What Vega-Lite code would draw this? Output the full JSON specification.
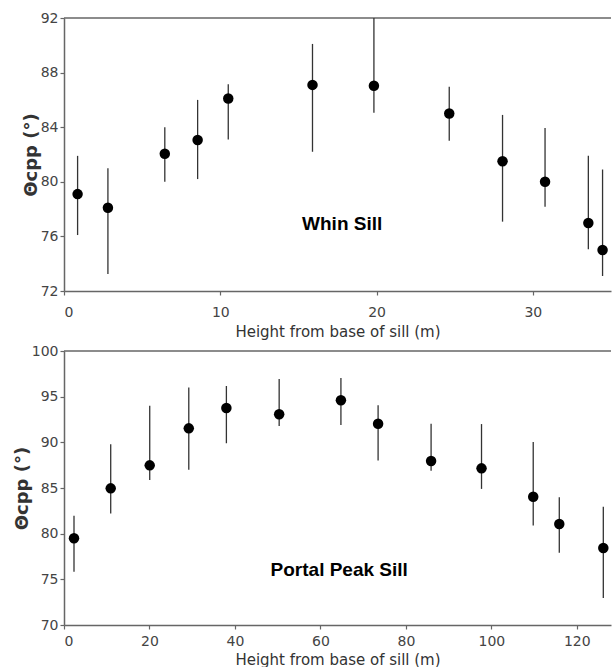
{
  "$schema": "https://vega.github.io/schema/vega-lite/v6.json",
  "padding": {"left": 13, "top": 11, "right": 0, "bottom": 0},
  "spacing": 60,
  "bounds": "flush",
  "datasets": {
    "whin": [
      {"h": 0.87, "theta": 79.1, "lo": 76.1, "hi": 81.9},
      {"h": 2.81, "theta": 78.1, "lo": 73.25, "hi": 81.0},
      {"h": 6.45, "theta": 82.06, "lo": 80.0, "hi": 84.0},
      {"h": 8.55, "theta": 83.06, "lo": 80.2, "hi": 86.0},
      {"h": 10.51, "theta": 86.1, "lo": 83.1, "hi": 87.14},
      {"h": 15.9, "theta": 87.1, "lo": 82.2, "hi": 90.1},
      {"h": 19.83, "theta": 87.04, "lo": 85.06, "hi": 92.0},
      {"h": 24.65, "theta": 85.0, "lo": 83.0, "hi": 86.97},
      {"h": 28.06, "theta": 81.5, "lo": 77.08, "hi": 84.9},
      {"h": 30.78, "theta": 80.0, "lo": 78.18, "hi": 83.94},
      {"h": 33.55, "theta": 76.98, "lo": 75.05, "hi": 81.9},
      {"h": 34.46, "theta": 75.0, "lo": 73.1, "hi": 80.9}
    ],
    "portal": [
      {"h": 2.34, "theta": 79.5, "lo": 75.84, "hi": 81.97},
      {"h": 10.93, "theta": 84.96, "lo": 82.2, "hi": 89.8},
      {"h": 20.06, "theta": 87.48, "lo": 85.88, "hi": 94.0},
      {"h": 29.2, "theta": 91.53, "lo": 87.0, "hi": 96.0},
      {"h": 38.0, "theta": 93.76, "lo": 89.9, "hi": 96.17},
      {"h": 50.35, "theta": 93.07, "lo": 91.8, "hi": 96.93},
      {"h": 64.8, "theta": 94.6, "lo": 91.9, "hi": 97.04},
      {"h": 73.5, "theta": 92.04, "lo": 88.0, "hi": 94.05},
      {"h": 85.9, "theta": 87.96, "lo": 86.9, "hi": 92.04},
      {"h": 97.7, "theta": 87.15, "lo": 84.9, "hi": 92.0},
      {"h": 109.8, "theta": 84.05, "lo": 80.9, "hi": 90.04},
      {"h": 115.9, "theta": 81.06, "lo": 77.9, "hi": 84.0},
      {"h": 126.2, "theta": 78.43, "lo": 72.95, "hi": 82.95}
    ],
    "labels1": [{"label": "Whin Sill", "h": 17.8, "theta": 76.9}],
    "labels2": [{"label": "Portal Peak Sill", "h": 64.4, "theta": 76.0}],
    "top1": [{"v": 92}],
    "top2": [{"v": 100}]
  },
  "vconcat": [
    {
      "width": 547,
      "height": 273,
      "layer": [
        {
          "data": {"name": "top1"},
          "mark": {"type": "rule", "color": "#666", "strokeWidth": 1.5},
          "encoding": {
            "y": {"field": "v", "type": "quantitative", "title": "Θcpp (°)"}
          }
        },
        {
          "data": {"name": "whin"},
          "mark": {"type": "rule", "color": "#333", "strokeWidth": 1.3},
          "encoding": {
            "x": {"field": "h", "type": "quantitative", "title": "Height from base of sill (m)",
                  "scale": {"domain": [0, 35], "nice": false, "zero": false},
                  "axis": {"values": [0, 10, 20, 30], "labelPadding": 10, "titlePadding": 5}},
            "y": {"field": "lo", "type": "quantitative", "title": "Θcpp (°)",
                  "scale": {"domain": [72, 92], "nice": false, "zero": false},
                  "axis": {"values": [72, 74, 76, 78, 80, 82, 84, 86, 88, 90, 92],
                           "labelExpr": "datum.value % 4 == 0 ? datum.label : ''"}},
            "y2": {"field": "hi"}
          }
        },
        {
          "data": {"name": "whin"},
          "mark": {"type": "circle", "size": 110, "color": "black", "opacity": 1},
          "encoding": {
            "x": {"field": "h", "type": "quantitative", "title": "Height from base of sill (m)"},
            "y": {"field": "theta", "type": "quantitative", "title": "Θcpp (°)"}
          }
        },
        {
          "data": {"name": "labels1"},
          "mark": {"type": "text", "font": "Liberation Sans", "fontWeight": "bold", "fontSize": 19, "color": "black"},
          "encoding": {
            "x": {"field": "h", "type": "quantitative", "title": "Height from base of sill (m)"},
            "y": {"field": "theta", "type": "quantitative", "title": "Θcpp (°)"},
            "text": {"field": "label"}
          }
        }
      ]
    },
    {
      "width": 547,
      "height": 274,
      "layer": [
        {
          "data": {"name": "top2"},
          "mark": {"type": "rule", "color": "#666", "strokeWidth": 1.5},
          "encoding": {
            "y": {"field": "v", "type": "quantitative", "title": "Θcpp (°)"}
          }
        },
        {
          "data": {"name": "portal"},
          "mark": {"type": "rule", "color": "#333", "strokeWidth": 1.3},
          "encoding": {
            "x": {"field": "h", "type": "quantitative", "title": "Height from base of sill (m)",
                  "scale": {"domain": [0, 128], "nice": false, "zero": false},
                  "axis": {"values": [0, 20, 40, 60, 80, 100, 120], "labelPadding": 5, "titlePadding": 4}},
            "y": {"field": "lo", "type": "quantitative", "title": "Θcpp (°)",
                  "scale": {"domain": [70, 100], "nice": false, "zero": false},
                  "axis": {"values": [70, 75, 80, 85, 90, 95, 100]}},
            "y2": {"field": "hi"}
          }
        },
        {
          "data": {"name": "portal"},
          "mark": {"type": "circle", "size": 110, "color": "black", "opacity": 1},
          "encoding": {
            "x": {"field": "h", "type": "quantitative", "title": "Height from base of sill (m)"},
            "y": {"field": "theta", "type": "quantitative", "title": "Θcpp (°)"}
          }
        },
        {
          "data": {"name": "labels2"},
          "mark": {"type": "text", "font": "Liberation Sans", "fontWeight": "bold", "fontSize": 19, "color": "black"},
          "encoding": {
            "x": {"field": "h", "type": "quantitative", "title": "Height from base of sill (m)"},
            "y": {"field": "theta", "type": "quantitative", "title": "Θcpp (°)"},
            "text": {"field": "label"}
          }
        }
      ]
    }
  ],
  "config": {
    "view": {"stroke": null},
    "axis": {
      "grid": false,
      "labelFont": "DejaVu Sans",
      "labelFontSize": 14,
      "labelColor": "#444",
      "titleFont": "DejaVu Sans",
      "titleFontSize": 15,
      "titleFontWeight": "normal",
      "titleColor": "#333",
      "domainColor": "#666",
      "domainWidth": 1.5,
      "tickColor": "#666",
      "tickWidth": 1.2,
      "tickSize": 4
    },
    "axisY": {
      "labelPadding": 2,
      "titleFontWeight": "bold",
      "titleFontSize": 18,
      "titlePadding": 0
    }
  }
}
